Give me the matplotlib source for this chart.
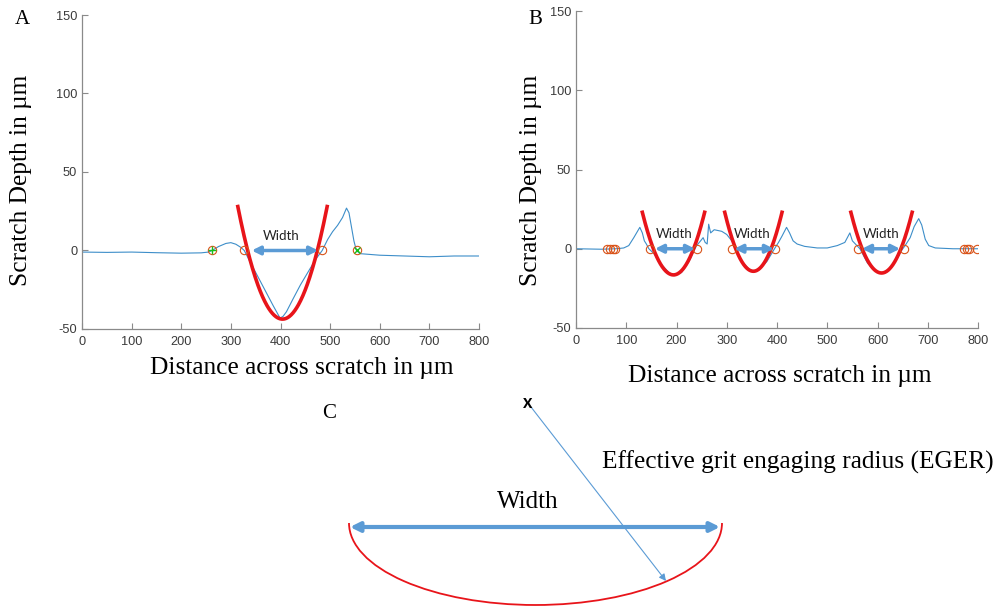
import numpy as np
import matplotlib
matplotlib.use('Agg')
import matplotlib.pyplot as plt
from matplotlib.patches import Arc

plt.rcParams['font.family'] = ['Liberation Sans', 'DejaVu Sans']
plt.rcParams['axes.unicode_minus'] = False  # plain hyphen for -50

# ---- panel A data: scratch profile (um)
xa = [0, 50, 100, 150, 200, 240, 255, 262, 275, 290, 300, 310, 320, 327, 340, 355, 370, 385, 399, 405,
      412, 425, 440, 455, 470, 484, 495, 505, 515, 525, 533, 538, 543, 548, 553, 560, 600, 650, 700, 750, 800]
ya = [-1, -1.2, -1, -1.4, -1.7, -1.5, -1, 0, 2.5, 4.5, 5, 4, 2, 0, -8, -17, -26, -35, -43, -42,
      -39, -31, -22, -14, -6, 0, 7, 12, 16, 21, 27, 24, 15, 6, 0, -2, -3, -3.5, -4, -3.5, -3.5]
edge_a = [262, 327, 484, 555]   # orange circles
green_a = [262, 555]            # green start / end markers
# parabola fit: vertex x, vertex y, top y, half width at top
para_a = [(404, -43.7, 28, 90)]
width_a = [(342, 476)]
width_txt_a = [401]

# ---- panel B data
xb = [0, 50, 80, 95, 105, 115, 127, 132, 136, 140, 145, 155, 170, 185, 195, 210, 225, 235, 240, 248, 253,
      257, 261, 264, 268, 275, 290, 300, 310, 318, 330, 345, 355, 365, 380, 395, 403, 410, 419, 425, 432,
      440, 455, 480, 500, 520, 535, 545, 550, 556, 565, 580, 595, 608, 620, 635, 648, 655, 665, 673, 682,
      688, 695, 702, 715, 750, 800]
yb = [0, -0.3, 0, 0.5, 2, 7, 13.5, 10, 5, 3, 0, -3, -10, -15, -17, -15, -8, -1, 2, 5, 7,
      4, 3, 15.5, 10, 12, 11, 9, 5, 0, -8, -13, -14.5, -13, -8, 0, 4, 8, 13.5, 10, 5,
      3, 1.5, 0.5, 0.5, 2, 4, 10, 5, 3, 0, -9, -14, -15.5, -14, -8, -1, 2, 7, 14, 19,
      15, 6, 2, 0.5, 0, 0]
edge_b = [62, 68, 74, 78, 147, 240, 311, 396, 562, 652, 772, 778, 783, 798]
para_b = [(194, -16.5, 23, 62), (353, -14.2, 23, 57), (608, -15.3, 23, 61)]
width_b = [(157, 237), (315, 394), (569, 645)]
width_txt_b = [196, 350, 608]

# ---- panel C sketch (pixel coords of the figure)
arc_c = (535.5, 523, 373, 164)      # centre x, centre y, width, height
width_c = (350, 720, 527)
centre_c = (528, 403)
radius_end_c = (666, 581)

# colours
c_prof = '#3d8ec9'
c_red = '#e8141a'
c_arrow = '#5b9bd5'
c_orange = '#d95319'
c_green = '#19c019'
c_axis = '#8a8a8a'
c_tick = '#3a3a3a'

W, H = 997, 608
fig = plt.figure(figsize=(W / 100, H / 100), dpi=100)


def panel(rect, xs, ys, edges, paras, widths, wtxt):
    ax = fig.add_axes(rect)
    ax.plot(xs, ys, color=c_prof, lw=0.8, zorder=2)
    for vx, vy, top, hw in paras:
        px = np.linspace(vx - hw, vx + hw, 200)
        py = vy + (top - vy) * ((px - vx) / hw) ** 2
        ax.plot(px, py, color=c_red, lw=2.6, zorder=3)
    ax.plot(edges, np.zeros(len(edges)), 'o', mfc='none', mec=c_orange, ms=6, mew=0.8, zorder=4)
    for x0, x1 in widths:
        ax.annotate('', xy=(x1, 0), xytext=(x0, 0),
                    arrowprops=dict(arrowstyle='<|-|>', color=c_arrow, lw=2.5,
                                    mutation_scale=12, shrinkA=0, shrinkB=0), zorder=5)
    for tx in wtxt:
        ax.text(tx, 9.5, 'Width', ha='center', va='center', fontsize=9.5,
                family=['Lato', 'DejaVu Sans'], color='#222222', zorder=6)
    ax.set_xlim(0, 800)
    ax.set_ylim(-50, 150)
    ax.set_xticks(range(0, 801, 100))
    ax.set_yticks([-50, 0, 50, 100, 150])
    for s in ['top', 'right']:
        ax.spines[s].set_visible(False)
    for s in ['left', 'bottom']:
        ax.spines[s].set_color(c_axis)
        ax.spines[s].set_linewidth(0.9)
    ax.tick_params(direction='in', length=4, width=0.8, color=c_axis,
                   labelcolor=c_tick, labelsize=9.2)
    ax.tick_params(axis='x', pad=5)
    ax.patch.set_alpha(0)
    return ax


axA = panel([82 / W, 1 - 329 / H, 397 / W, 314 / H], xa, ya, edge_a, para_a, width_a, width_txt_a)
axA.plot(green_a[:1], [0], '+', color=c_green, ms=6, mew=1, zorder=5)
axA.plot(green_a[1:], [0], 'x', color=c_green, ms=4, mew=1, zorder=5)
axB = panel([576 / W, 1 - 328 / H, 402 / W, 317 / H], xb, yb, edge_b, para_b, width_b, width_txt_b)

serif = ['Liberation Serif', 'DejaVu Serif']
lab = dict(fontsize=18.3, family=serif, ha='center', va='center')
fig.text(302 / W, 1 - 368 / H, 'Distance across scratch in µm', **lab)
fig.text(780 / W, 1 - 376 / H, 'Distance across scratch in µm', **lab)
fig.text(21 / W, 1 - 180 / H, 'Scratch Depth in µm', rotation=90, **lab)
fig.text(531 / W, 1 - 180 / H, 'Scratch Depth in µm', rotation=90, **lab)
fig.text(22 / W, 1 - 20 / H, 'A', fontsize=15, family=serif, ha='center', va='center')
fig.text(535 / W, 1 - 20 / H, 'B', fontsize=15, family=serif, ha='center', va='center')

# panel C: schematic on an overlay axes in pixel units
axC = fig.add_axes([0, 0, 1, 1], zorder=-1)
axC.set_xlim(0, W)
axC.set_ylim(H, 0)
axC.axis('off')
cx, cy, aw, ah = arc_c
axC.add_patch(Arc((cx, cy), aw, ah, theta1=0, theta2=180, color=c_red, lw=1.3))
axC.annotate('', xy=(width_c[1], width_c[2]), xytext=(width_c[0], width_c[2]),
             arrowprops=dict(arrowstyle='<|-|>', color=c_arrow, lw=3,
                             mutation_scale=14, shrinkA=0, shrinkB=0))
axC.annotate('', xy=radius_end_c, xytext=(centre_c[0] + 3, centre_c[1] + 4),
             arrowprops=dict(arrowstyle='-|>', color=c_arrow, lw=0.8,
                             mutation_scale=10, shrinkA=0, shrinkB=0))
axC.text(centre_c[0], centre_c[1], 'x', fontsize=13, ha='center', va='center',
         family=['Lato', 'DejaVu Sans'], fontweight='bold')
axC.text(329, 414, 'C', fontsize=15, family=serif, ha='center', va='center')
axC.text(528, 502, 'Width', fontsize=18, family=serif, ha='center', va='center')
axC.text(602, 462, 'Effective grit engaging radius (EGER)', fontsize=18.3, family=serif,
         ha='left', va='center')

fig.savefig('out.png', dpi=100)
